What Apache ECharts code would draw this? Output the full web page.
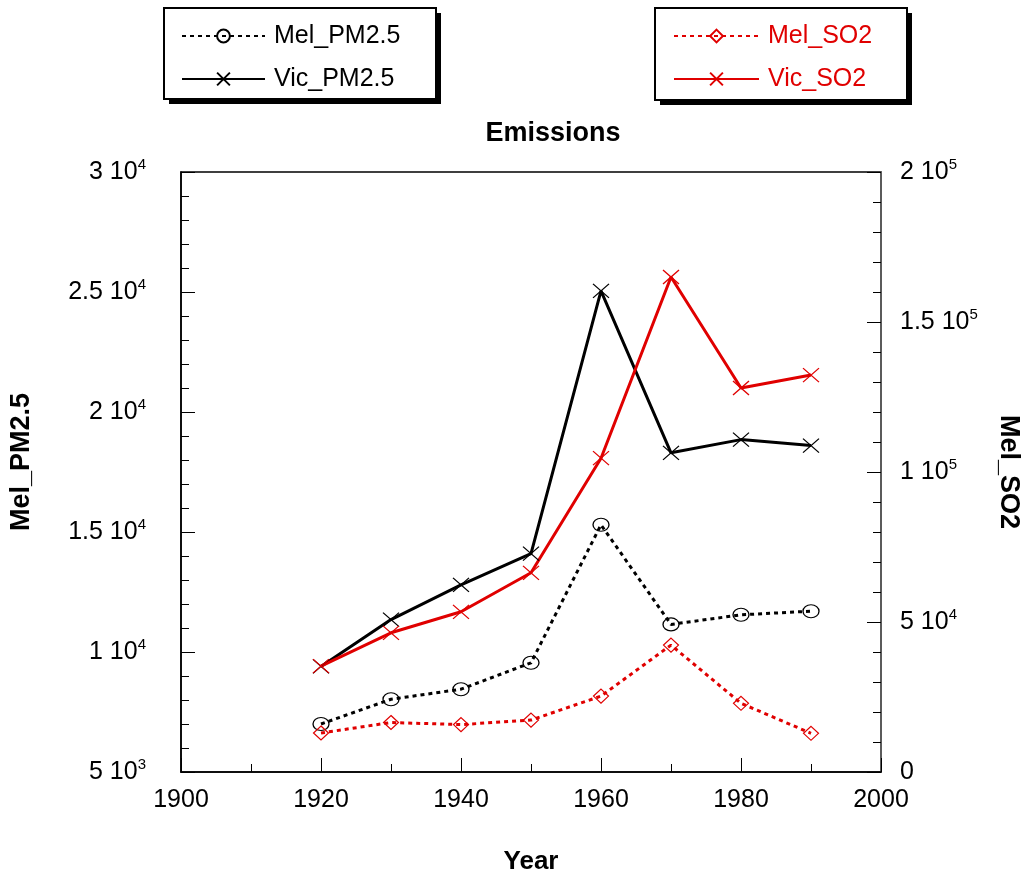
<!DOCTYPE html>
<html>
<head>
<meta charset="utf-8">
<style>
html,body{margin:0;padding:0;background:#fff;}
#chart{width:1026px;height:875px;}
</style>
<script src="https://cdn.jsdelivr.net/npm/echarts@6/dist/echarts.min.js"></script>
</head>
<body>
<div id="chart"></div>
<script>
const years = [1920, 1930, 1940, 1950, 1960, 1970, 1980, 1990];
const melPM25 = [7000, 8030, 8450, 9550, 15300, 11150, 11550, 11700];
const vicPM25 = [9400, 11350, 12800, 14100, 25050, 18300, 18850, 18600];
const melSO2 = [13000, 16500, 15800, 17300, 25300, 42300, 22900, 12900];
const vicSO2 = [35300, 46400, 53400, 66400, 104600, 165000, 128000, 132300];
const seriesNames = ['Mel_PM2.5', 'Vic_PM2.5', 'Mel_SO2', 'Vic_SO2'];
const titleText = 'Emissions';
const xName = 'Year';
const yLeftName = 'Mel_PM2.5';
const yRightName = 'Mel_SO2';

const FONT = '"Liberation Sans", Arial, sans-serif';
const RED = '#e00000';
const pairs = (vals) => years.map((y, i) => [y, vals[i]]);

function sci(v) {
  if (v === 0) return '{n|0}';
  const e = Math.floor(Math.log10(v) + 1e-9);
  const m = +(v / Math.pow(10, e)).toFixed(2);
  return '{n|' + m + ' 10}{s|' + e + '}';
}
const richSci = {
  n: { fontSize: 25, fontFamily: FONT, color: '#000', lineHeight: 30 },
  s: { fontSize: 15, fontFamily: FONT, color: '#000', lineHeight: 15, verticalAlign: 'top' }
};
const crossPath = 'path://M0,0L10,10M10,0L0,10';

function legendBox(x, y, w, h) {
  return [
    { type: 'rect', z: 0, silent: true, shape: { x: x + 5, y: y + 5, width: w, height: h }, style: { fill: '#000' } },
    { type: 'rect', z: 1, silent: true, shape: { x: x, y: y, width: w, height: h }, style: { fill: '#fff', stroke: '#000', lineWidth: 2 } }
  ];
}

const chart = echarts.init(document.getElementById('chart'), null, { renderer: 'canvas' });
chart.setOption({
  backgroundColor: '#fff',
  animation: false,
  graphic: legendBox(164, 8, 272, 91).concat(legendBox(655, 8, 252, 92)),
  title: {
    text: titleText, left: 548, top: 115, textAlign: 'center',
    textStyle: { fontFamily: FONT, fontSize: 27, fontWeight: 'bold', color: '#000' }
  },
  legend: [
    {
      data: [seriesNames[0], seriesNames[1]], orient: 'vertical', left: 181, top: 21, z: 5,
      itemWidth: 83, itemHeight: 16, itemGap: 13, padding: 0,
      textStyle: { fontFamily: FONT, fontSize: 25, color: '#000', lineHeight: 30, padding: [0, 0, 0, 4] }
    },
    {
      data: [seriesNames[2], seriesNames[3]], orient: 'vertical', left: 673, top: 21, z: 5,
      itemWidth: 85, itemHeight: 16, itemGap: 13, padding: 0,
      textStyle: { fontFamily: FONT, fontSize: 25, color: RED, lineHeight: 30, padding: [0, 0, 0, 4] }
    }
  ],
  grid: { left: 181, top: 172, width: 700, height: 600, outerBoundsMode: 'none', containLabel: false,
          show: true, borderColor: '#000', borderWidth: 1.5, backgroundColor: 'transparent' },
  xAxis: {
    type: 'value', min: 1900, max: 2000, interval: 20,
    name: xName, nameLocation: 'middle', nameGap: 77,
    nameTextStyle: { fontFamily: FONT, fontSize: 26, fontWeight: 'bold', color: '#000' },
    axisLine: { lineStyle: { color: '#000', width: 1.5 } },
    axisTick: { inside: true, length: 14, lineStyle: { color: '#000', width: 1 } },
    minorTick: { show: true, splitNumber: 2, length: 8, lineStyle: { color: '#000', width: 1 } },
    axisLabel: { fontFamily: FONT, fontSize: 25, color: '#000', margin: 16, formatter: (v) => String(v) },
    splitLine: { show: false }
  },
  yAxis: [
    {
      type: 'value', min: 5000, max: 30000, interval: 5000, position: 'left',
      name: yLeftName, nameLocation: 'middle', nameGap: 146,
      nameTextStyle: { fontFamily: FONT, fontSize: 27, fontWeight: 'bold', color: '#000', padding: [0, 0, 0, 20] },
      axisLine: { show: true, lineStyle: { color: '#000', width: 1.5 } },
      axisTick: { show: true, inside: true, length: 14, lineStyle: { color: '#000', width: 1 } },
      minorTick: { show: true, splitNumber: 5, length: 8, lineStyle: { color: '#000', width: 1 } },
      axisLabel: { formatter: sci, rich: richSci, margin: 35 },
      splitLine: { show: false }
    },
    {
      type: 'value', min: 0, max: 200000, interval: 50000, position: 'right',
      name: yRightName, nameLocation: 'middle', nameGap: 114, nameRotate: -90,
      nameTextStyle: { fontFamily: FONT, fontSize: 27, fontWeight: 'bold', color: '#000' },
      axisLine: { show: true, lineStyle: { color: '#666', width: 1.5 } },
      axisTick: { show: true, inside: true, length: 14, lineStyle: { color: '#000', width: 1 } },
      minorTick: { show: true, splitNumber: 5, length: 8, lineStyle: { color: '#000', width: 1 } },
      axisLabel: { formatter: sci, rich: richSci, margin: 19 },
      splitLine: { show: false }
    }
  ],
  series: [
    {
      name: seriesNames[0], type: 'line', yAxisIndex: 0, data: pairs(melPM25),
      symbol: 'circle', symbolSize: [16, 13],
      itemStyle: { color: 'transparent', borderColor: '#000', borderWidth: 1.2 },
      lineStyle: { color: '#000', width: 3, type: [4, 4] }
    },
    {
      name: seriesNames[1], type: 'line', yAxisIndex: 0, data: pairs(vicPM25),
      symbol: crossPath, symbolSize: [16, 14],
      itemStyle: { color: 'transparent', borderColor: '#000', borderWidth: 1.2 },
      lineStyle: { color: '#000', width: 3 }
    },
    {
      name: seriesNames[2], type: 'line', yAxisIndex: 1, data: pairs(melSO2),
      symbol: 'diamond', symbolSize: [15, 14],
      itemStyle: { color: 'transparent', borderColor: RED, borderWidth: 1.2 },
      lineStyle: { color: RED, width: 3, type: [4, 4] }
    },
    {
      name: seriesNames[3], type: 'line', yAxisIndex: 1, data: pairs(vicSO2),
      symbol: crossPath, symbolSize: [16, 14],
      itemStyle: { color: 'transparent', borderColor: RED, borderWidth: 1.2 },
      lineStyle: { color: RED, width: 3 }
    }
  ]
});
</script>
</body>
</html>
